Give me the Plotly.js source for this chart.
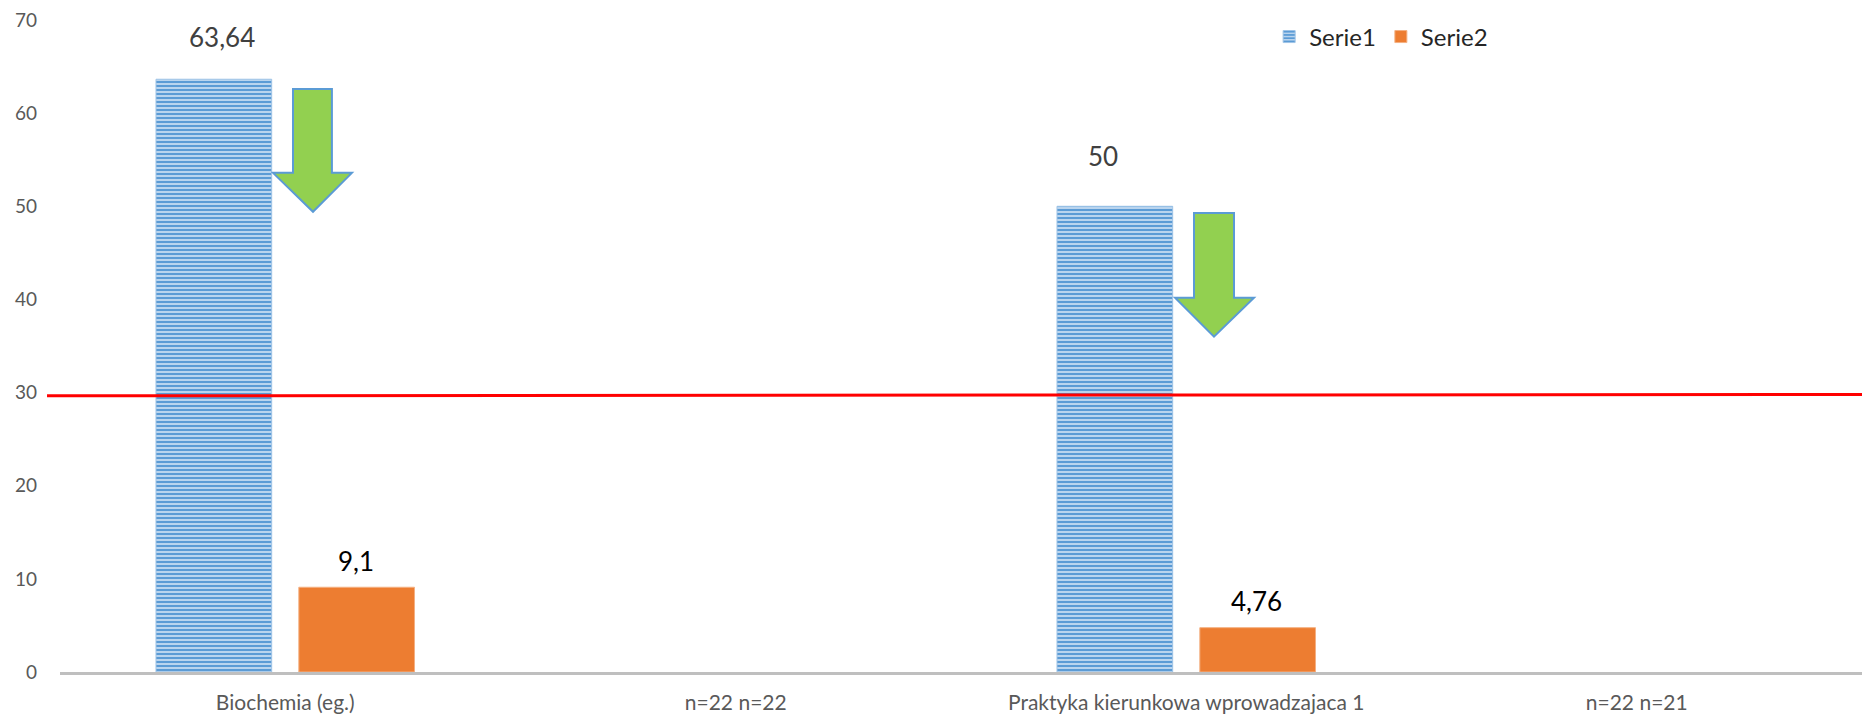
<!DOCTYPE html>
<html><head><meta charset="utf-8">
<script src="https://cdn.plot.ly/plotly-3.0.1.min.js"></script>
<style>html,body{margin:0;padding:0;background:#fff}#chart{width:1862px;height:720px}</style>
</head><body><div id="chart"></div>
<script>
// ---- data ----
const categories = ['Biochemia (eg.)', 'n=22 n=22', 'Praktyka kierunkowa wprowadzajaca 1', 'n=22 n=21'];
const serie1 = [63.64, null, 50, null];
const serie2 = [9.1, null, 4.76, null];
const thresholdValues = [29.65, 29.8];   // red reference line (left end, right end)

// ---- label placement (pixel offsets, style only) ----
const label1Offsets = [[8, 42], null, [-12, 50], null];
const label2Offsets = [[-1, 26], null, [-1.5, 27], null];
const barCenterShift = 71.5;

const fmt = v => String(v).replace('.', ',');
const FONT = 'Lato, "Open Sans", sans-serif';

const traces = [
  {
    type: 'bar', name: 'Serie1', x: categories, y: serie1,
    marker: {
      color: '#6fa6da',
      pattern: {shape: '-', fgcolor: '#5b9bd5', bgcolor: '#c4dbf1', size: 4, solidity: 0.55},
      line: {color: '#9dc3e6', width: 1}
    },
    hoverinfo: 'x+y'
  },
  {
    type: 'bar', name: 'Serie2', x: categories, y: serie2,
    marker: {color: '#ed7d31', line: {color: '#f4b183', width: 1}},
    hoverinfo: 'x+y'
  }
];

const annotations = [];
categories.forEach((c, i) => {
  if (serie1[i] != null) {
    const o = label1Offsets[i] || [0, 40];
    annotations.push({x: c, y: serie1[i], xref: 'x', yref: 'y', text: fmt(serie1[i]), showarrow: false,
      xshift: -barCenterShift + o[0], yshift: o[1], yanchor: 'middle', xanchor: 'center',
      font: {family: FONT, size: 26, color: '#404040'}});
  }
  if (serie2[i] != null) {
    const o = label2Offsets[i] || [0, 26];
    annotations.push({x: c, y: serie2[i], xref: 'x', yref: 'y', text: fmt(serie2[i]), showarrow: false,
      xshift: barCenterShift + o[0], yshift: o[1], yanchor: 'middle', xanchor: 'center',
      font: {family: FONT, size: 26, color: '#000000'}});
  }
});

function arrowPath(xl, xsl, xc, xsr, xr, yTop, yBase, yTip) {
  return `M${xsl},${yTop} L${xsr},${yTop} L${xsr},${yBase} L${xr},${yBase} L${xc},${yTip} L${xl},${yBase} L${xsl},${yBase} Z`;
}

const shapes = [
  {type: 'line', xref: 'paper', yref: 'y', x0: -0.0072, x1: 1, y0: thresholdValues[0], y1: thresholdValues[1],
   line: {color: '#ff0000', width: 3}, layer: 'above'},
  {type: 'path', xref: 'paper', yref: 'y', layer: 'above',
   path: arrowPath(0.1182, 0.1293, 0.1404, 0.1509, 0.1620, 62.60, 53.59, 49.41),
   fillcolor: '#92d050', line: {color: '#5b9bd5', width: 2}},
  {type: 'path', xref: 'paper', yref: 'y', layer: 'above',
   path: arrowPath(0.6188, 0.6293, 0.6404, 0.6515, 0.6626, 49.29, 40.18, 36.00),
   fillcolor: '#92d050', line: {color: '#5b9bd5', width: 2}}
];

const layout = {
  width: 1862, height: 720,
  margin: {l: 60, r: 0, t: 20, b: 47.5},
  paper_bgcolor: '#ffffff', plot_bgcolor: '#ffffff',
  font: {family: FONT, color: '#595959'},
  barmode: 'group', bargap: 0.366, bargroupgap: 0.19,
  showlegend: true,
  legend: {orientation: 'h', x: 0.671, y: 0.974, xanchor: 'left', yanchor: 'middle',
           font: {family: FONT, size: 24, color: '#262626'}, bgcolor: 'rgba(0,0,0,0)'},
  xaxis: {type: 'category', showline: true, linecolor: '#bfbfbf', linewidth: 3, showgrid: false,
          zeroline: false, ticks: '', ticklabelstandoff: 10,
          tickfont: {family: FONT, size: 21, color: '#595959'}, fixedrange: true},
  yaxis: {range: [0, 70], dtick: 10, showgrid: false, zeroline: false, showline: false, ticks: '',
          ticklabelstandoff: 22, tickfont: {family: FONT, size: 19, color: '#595959'}, fixedrange: true},
  annotations: annotations,
  shapes: shapes
};

Plotly.newPlot('chart', traces, layout, {displayModeBar: false, staticPlot: true});
</script>
</body></html>
